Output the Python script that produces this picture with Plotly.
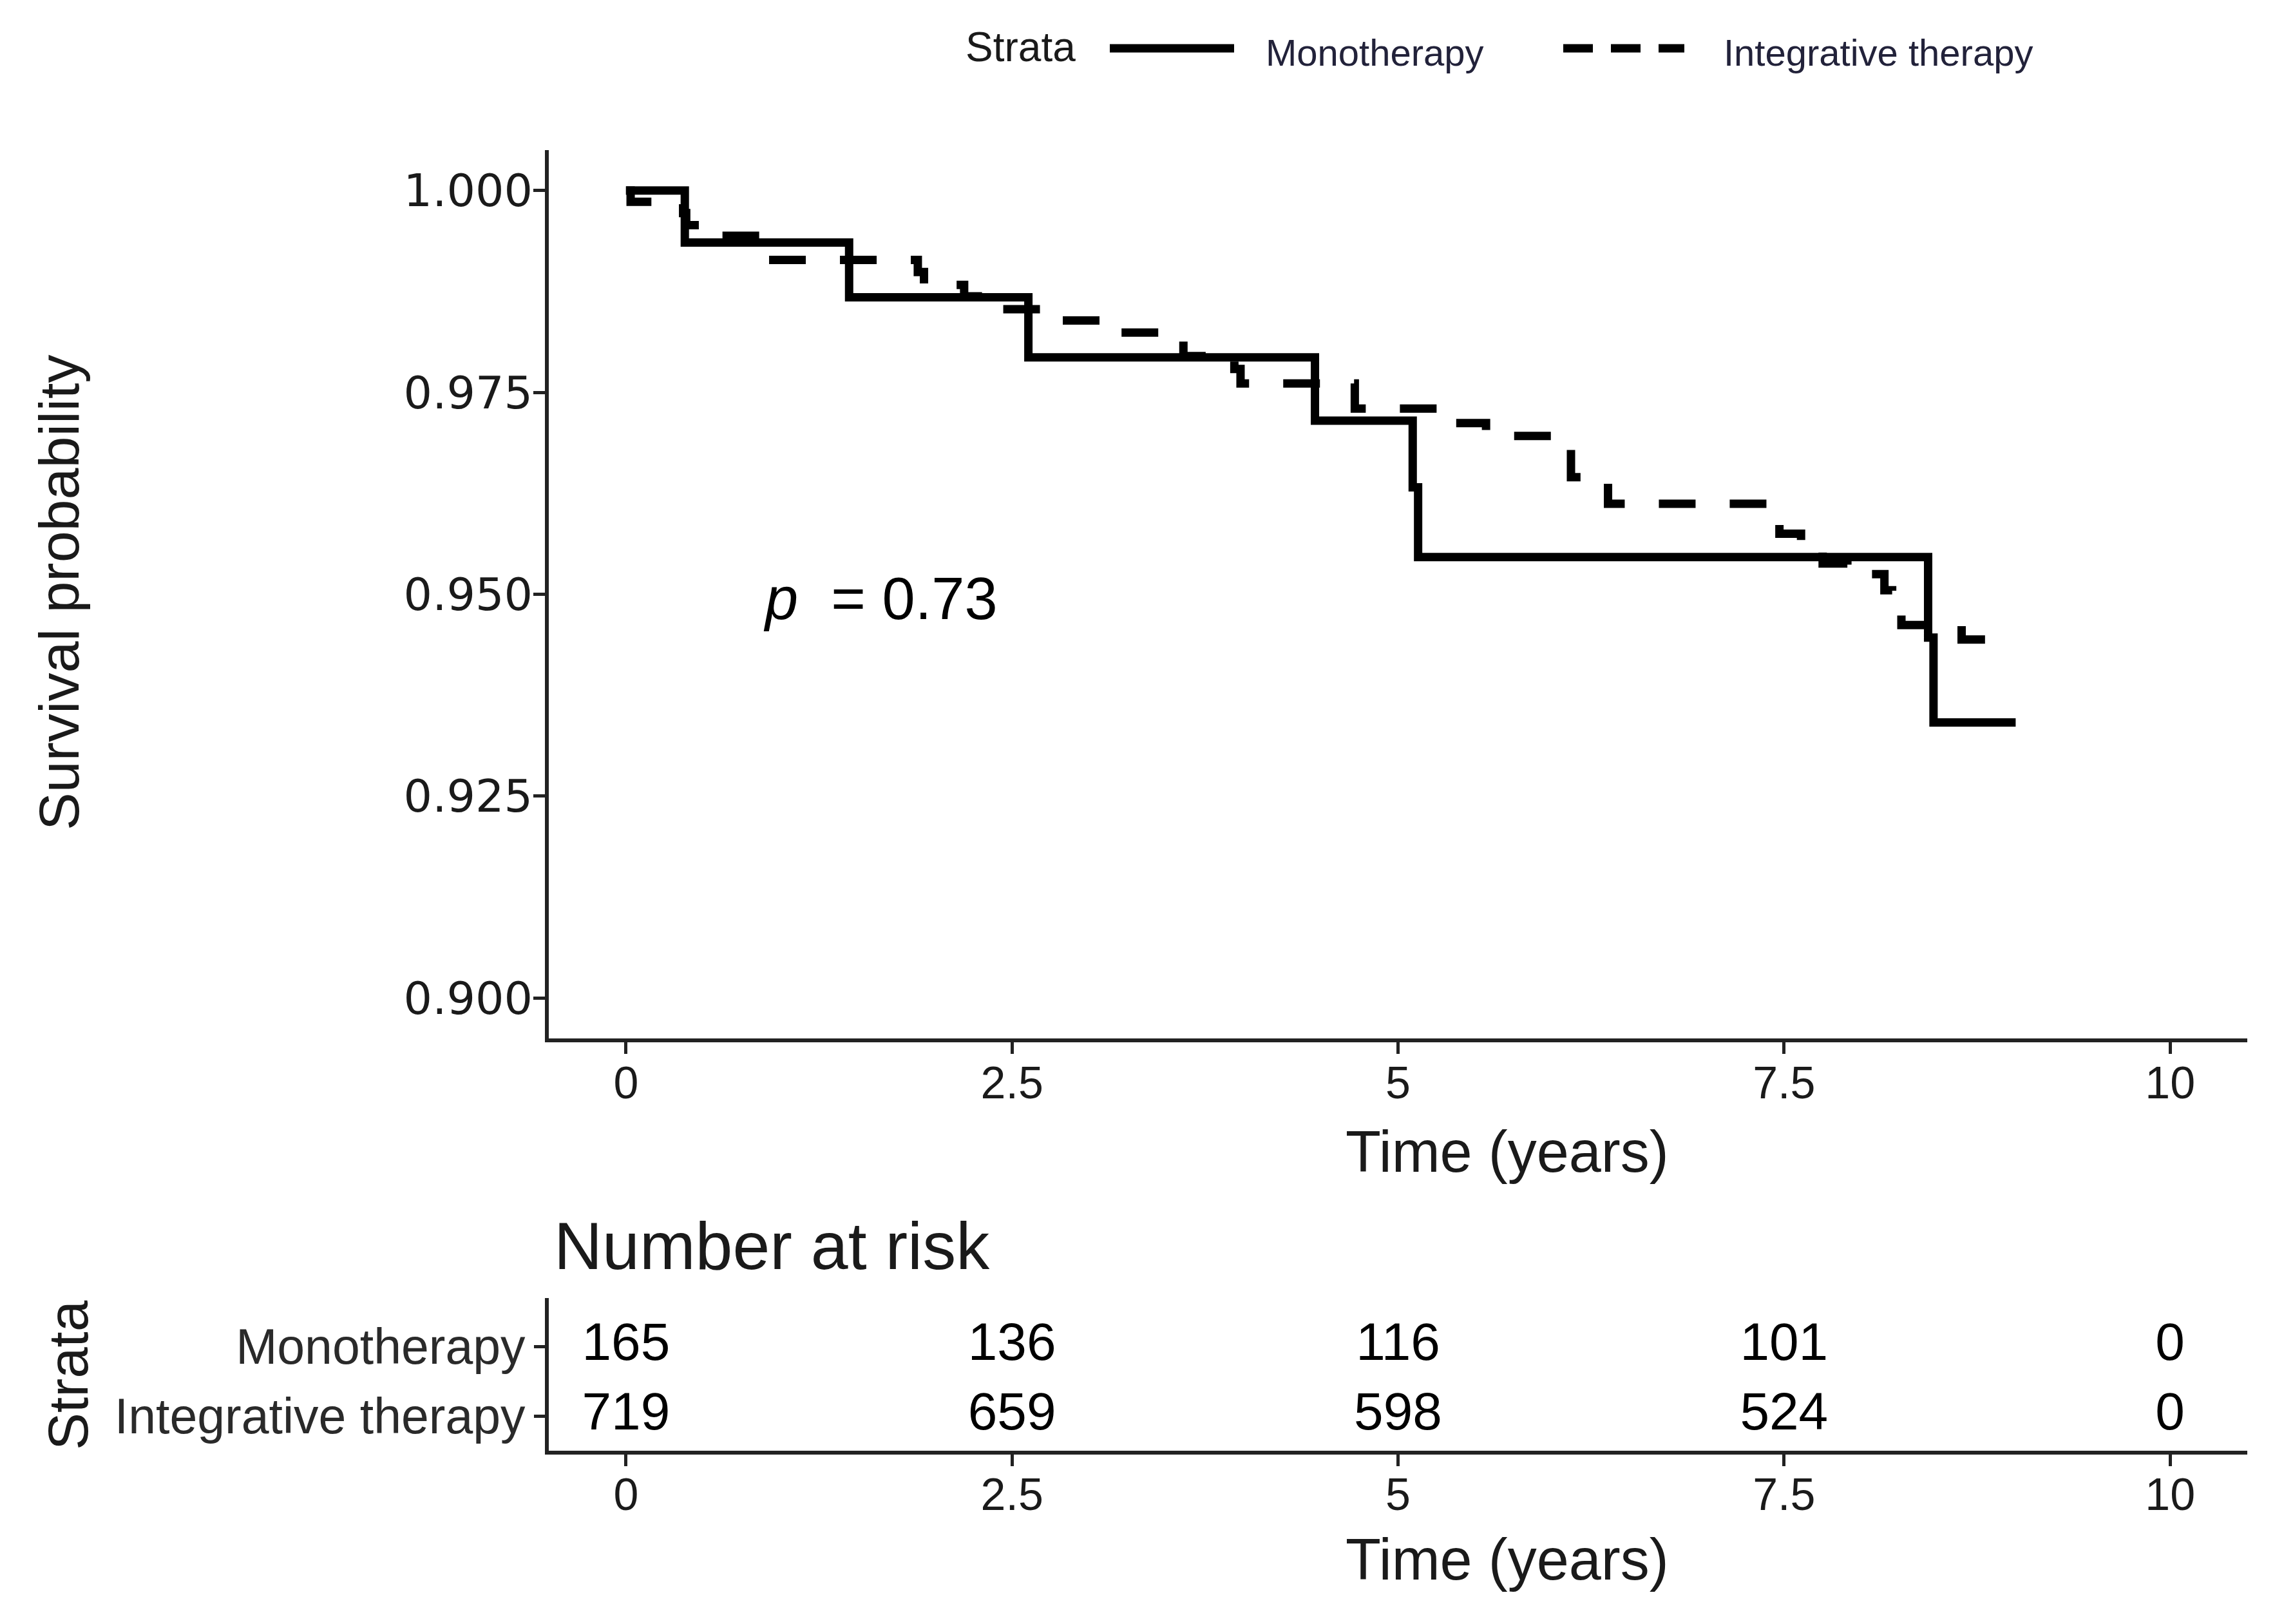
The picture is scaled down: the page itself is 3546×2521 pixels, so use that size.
import plotly.graph_objects as go

W, H = 3546, 2521
FONT = "Liberation Sans, Arial, Helvetica, sans-serif"
WIDE = "DejaVu Sans, Liberation Sans, sans-serif"
INK = "#1a1a1a"
AX = "#222222"

# ---------------- data ----------------
strata = ["Monotherapy", "Integrative therapy"]

mono_time = [0, 0.381, 1.445, 2.606, 4.462, 5.095, 5.130, 8.433, 8.468, 9.0]
mono_surv = [1.0, 0.99356, 0.98678, 0.97934, 0.97150, 0.96325, 0.95461, 0.94464, 0.93413, 0.93413]

integ_time = [0, 0.03, 0.37, 0.39, 0.58, 0.92, 1.89, 1.93, 2.19, 2.42, 2.80, 3.18, 3.45, 3.61, 3.94,
              3.98, 4.72, 5.36, 5.57, 6.00, 6.12, 6.36, 7.47, 7.61, 7.75, 7.91, 8.15, 8.20, 8.26, 8.65, 8.93]
integ_surv = [1.0, 0.9986, 0.9972, 0.9957, 0.9944, 0.9914, 0.9899, 0.9883, 0.9869, 0.9853, 0.9839, 0.9824,
              0.9816, 0.9795, 0.9779, 0.9761, 0.9730, 0.9712, 0.9696, 0.9687, 0.9645, 0.9612, 0.9575, 0.9553,
              0.9538, 0.9525, 0.9505, 0.9489, 0.9462, 0.9444, 0.9444]

risk_times = [0, 2.5, 5, 7.5, 10]
mono_risk = [165, 136, 116, 101, 0]
integ_risk = [719, 659, 598, 524, 0]

x_ticks = [0, 2.5, 5, 7.5, 10]
x_ticktext = ["0", "2.5", "5", "7.5", "10"]
y_ticks = [0.900, 0.925, 0.950, 0.975, 1.000]
y_ticktext = ["0.900", "0.925", "0.950", "0.975", "1.000"]

p_text = "<i>p</i>\u00a0\u00a0= 0.73"

# ---------------- figure ----------------
LW = 13
DASH = "57px,53px"

fig = go.Figure()
fig.add_trace(go.Scatter(x=mono_time, y=mono_surv, mode="lines", line=dict(color="black", width=LW, shape="hv"),
                         name=strata[0], showlegend=False, xaxis="x", yaxis="y"))
fig.add_trace(go.Scatter(x=integ_time, y=integ_surv, mode="lines",
                         line=dict(color="black", width=LW, shape="hv", dash=DASH),
                         name=strata[1], showlegend=False, xaxis="x", yaxis="y"))

fig.add_trace(go.Scatter(x=risk_times, y=[1] * len(risk_times), mode="text", text=[str(v) for v in mono_risk],
                         textfont=dict(family=FONT, size=82, color="black"), showlegend=False,
                         xaxis="x2", yaxis="y2", hoverinfo="skip"))
fig.add_trace(go.Scatter(x=risk_times, y=[2] * len(risk_times), mode="text", text=[str(v) for v in integ_risk],
                         textfont=dict(family=FONT, size=82, color="black"), showlegend=False,
                         xaxis="x2", yaxis="y2", hoverinfo="skip"))

xdom = [852 / W, 3489 / W]
axis_common = dict(showgrid=False, zeroline=False, showline=True, linecolor=AX, linewidth=6,
                   ticks="outside", ticklen=18, tickwidth=5, tickcolor=AX,
                   tickfont=dict(family=FONT, size=70, color=INK))

fig.update_layout(
    width=W, height=H,
    margin=dict(l=0, r=0, t=0, b=0),
    paper_bgcolor="white", plot_bgcolor="white",
    font=dict(family=FONT, color=INK),
    showlegend=False,
    xaxis=dict(domain=xdom, range=[-0.5, 10.5], tickvals=x_ticks, ticktext=x_ticktext,
               anchor="y", ticklabelstandoff=-15, **axis_common),
    yaxis=dict(domain=[1 - 1612 / H, 1 - 233 / H], range=[0.895, 1.005], tickvals=y_ticks,
               ticktext=y_ticktext, anchor="x", ticklabelstandoff=-13,
               **{**axis_common, "tickfont": dict(family=WIDE, size=70, color=INK)}),
    xaxis2=dict(domain=xdom, range=[-0.5, 10.5], tickvals=x_ticks, ticktext=x_ticktext,
                anchor="y2", ticklabelstandoff=-16, **axis_common),
    yaxis2=dict(domain=[1 - 2252 / H, 1 - 2015 / H], range=[2.5, 0.3], tickvals=[1, 2],
                ticktext=strata, anchor="x2", ticklabelstandoff=-2,
                **{**axis_common, "tickfont": dict(family=FONT, size=77, color="#2a2a2a"), "ticklen": 17}),
)

def ann(text, x, y, size, xanchor="center", yanchor="middle", angle=0, xref="paper", yref="paper", color=INK):
    fig.add_annotation(text=text, x=x, y=y, xref=xref, yref=yref, xanchor=xanchor, yanchor=yanchor,
                       textangle=angle, showarrow=False, font=dict(family=FONT, size=size, color=color))

# axis titles
ann("Time (years)", 2340 / W, 1 - 1788 / H, 90)
ann("Survival probability", 91 / W, 1 - 920 / H, 88, angle=-90)
ann("Number at risk", 858 / W, 1 - 1934 / H, 104, xanchor="left")
ann("Strata", 105 / W, 1 - 2135 / H, 87, angle=-90)
ann("Time (years)", 2340 / W, 1 - 2421 / H, 90)

# p-value inside panel (data coords)
ann(p_text, 0.88, 0.9495, 92, xanchor="left", xref="x", yref="y", color="black")

# legend (top)
ann("Strata", 1497 / W, 1 - 73 / H, 64, xanchor="left")
fig.add_shape(type="line", xref="paper", yref="paper", x0=1723 / W, x1=1916 / W, y0=1 - 75 / H, y1=1 - 75 / H,
              line=dict(color="black", width=LW))
ann(strata[0], 1963 / W, 1 - 82 / H, 58, xanchor="left", color="#22223a")
fig.add_shape(type="line", xref="paper", yref="paper", x0=2427 / W, x1=2615 / W, y0=1 - 75 / H, y1=1 - 75 / H,
              line=dict(color="black", width=LW, dash="46px,28px"))
ann(strata[1], 2674 / W, 1 - 82 / H, 58, xanchor="left", color="#22223a")

fig.write_html("out.html", config={"displayModeBar": False},
               post_script="document.body.style.margin='0';")
